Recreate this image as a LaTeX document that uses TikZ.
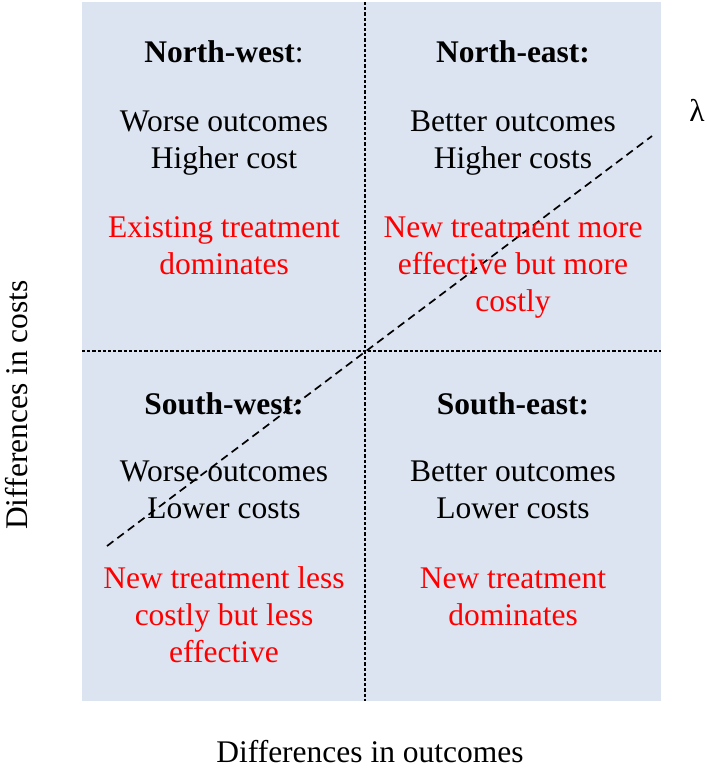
\documentclass[tikz,border=0pt]{standalone}
\usepackage{fontspec}
\setmainfont{Liberation Serif}
\begin{document}
\begin{tikzpicture}[x=1pt,y=-1pt,
  txt/.style={align=center,font=\fontsize{31.5}{37}\selectfont,inner sep=0pt},
  redtxt/.style={txt,text=red},
  axisline/.style={line width=1.9pt,dash pattern=on 3.2pt off 2pt},
  diagline/.style={line width=1.7pt,dash pattern=on 8pt off 5pt}]
\definecolor{quad}{RGB}{219,228,240}
\useasboundingbox (0,0) rectangle (707,769);
\fill[quad] (82,2) rectangle (661,701);
\coordinate (top) at (365,2);
\coordinate (bot) at (365,701);
\coordinate (lft) at (82,351);
\coordinate (rgt) at (661,351);
\coordinate (dlo) at (107,546);
\coordinate (dhi) at (652,136);
\draw[axisline] (top) -- (bot);
\draw[axisline] (lft) -- (rgt);
\draw[diagline] (dlo) -- (dhi);
% North-west
\node[txt] (nwh) at (224,52) {\textbf{North-west}:};
\node[txt] (nwb) at (224,143.5) {Worse outcomes\\Higher cost};
\node[redtxt] (nwr) at (224,245.5) {Existing treatment\\dominates};
% North-east
\node[txt] (neh) at (513,52) {\textbf{North-east:}};
\node[txt] (neb) at (513,143.5) {Better outcomes\\Higher costs};
\node[redtxt] (ner) at (513,267.5) {New treatment more\\effective but more\\costly};
% South-west
\node[txt] (swh) at (224,404) {\textbf{South-west:}};
\node[txt] (swb) at (224,489.5) {Worse outcomes\\Lower costs};
\node[redtxt] (swr) at (224,614.5) {New treatment less\\costly but less\\effective};
% South-east
\node[txt] (seh) at (513,404) {\textbf{South-east:}};
\node[txt] (seb) at (513,489.5) {Better outcomes\\Lower costs};
\node[redtxt] (ser) at (513,597) {New treatment\\dominates};
% labels
\node[txt] (lam) at (697,110) {λ};
\node[txt] (xlab) at (370,752) {Differences in outcomes};
\node[txt,rotate=90] (ylab) at (17,405) {Differences in costs};
\end{tikzpicture}
\end{document}
